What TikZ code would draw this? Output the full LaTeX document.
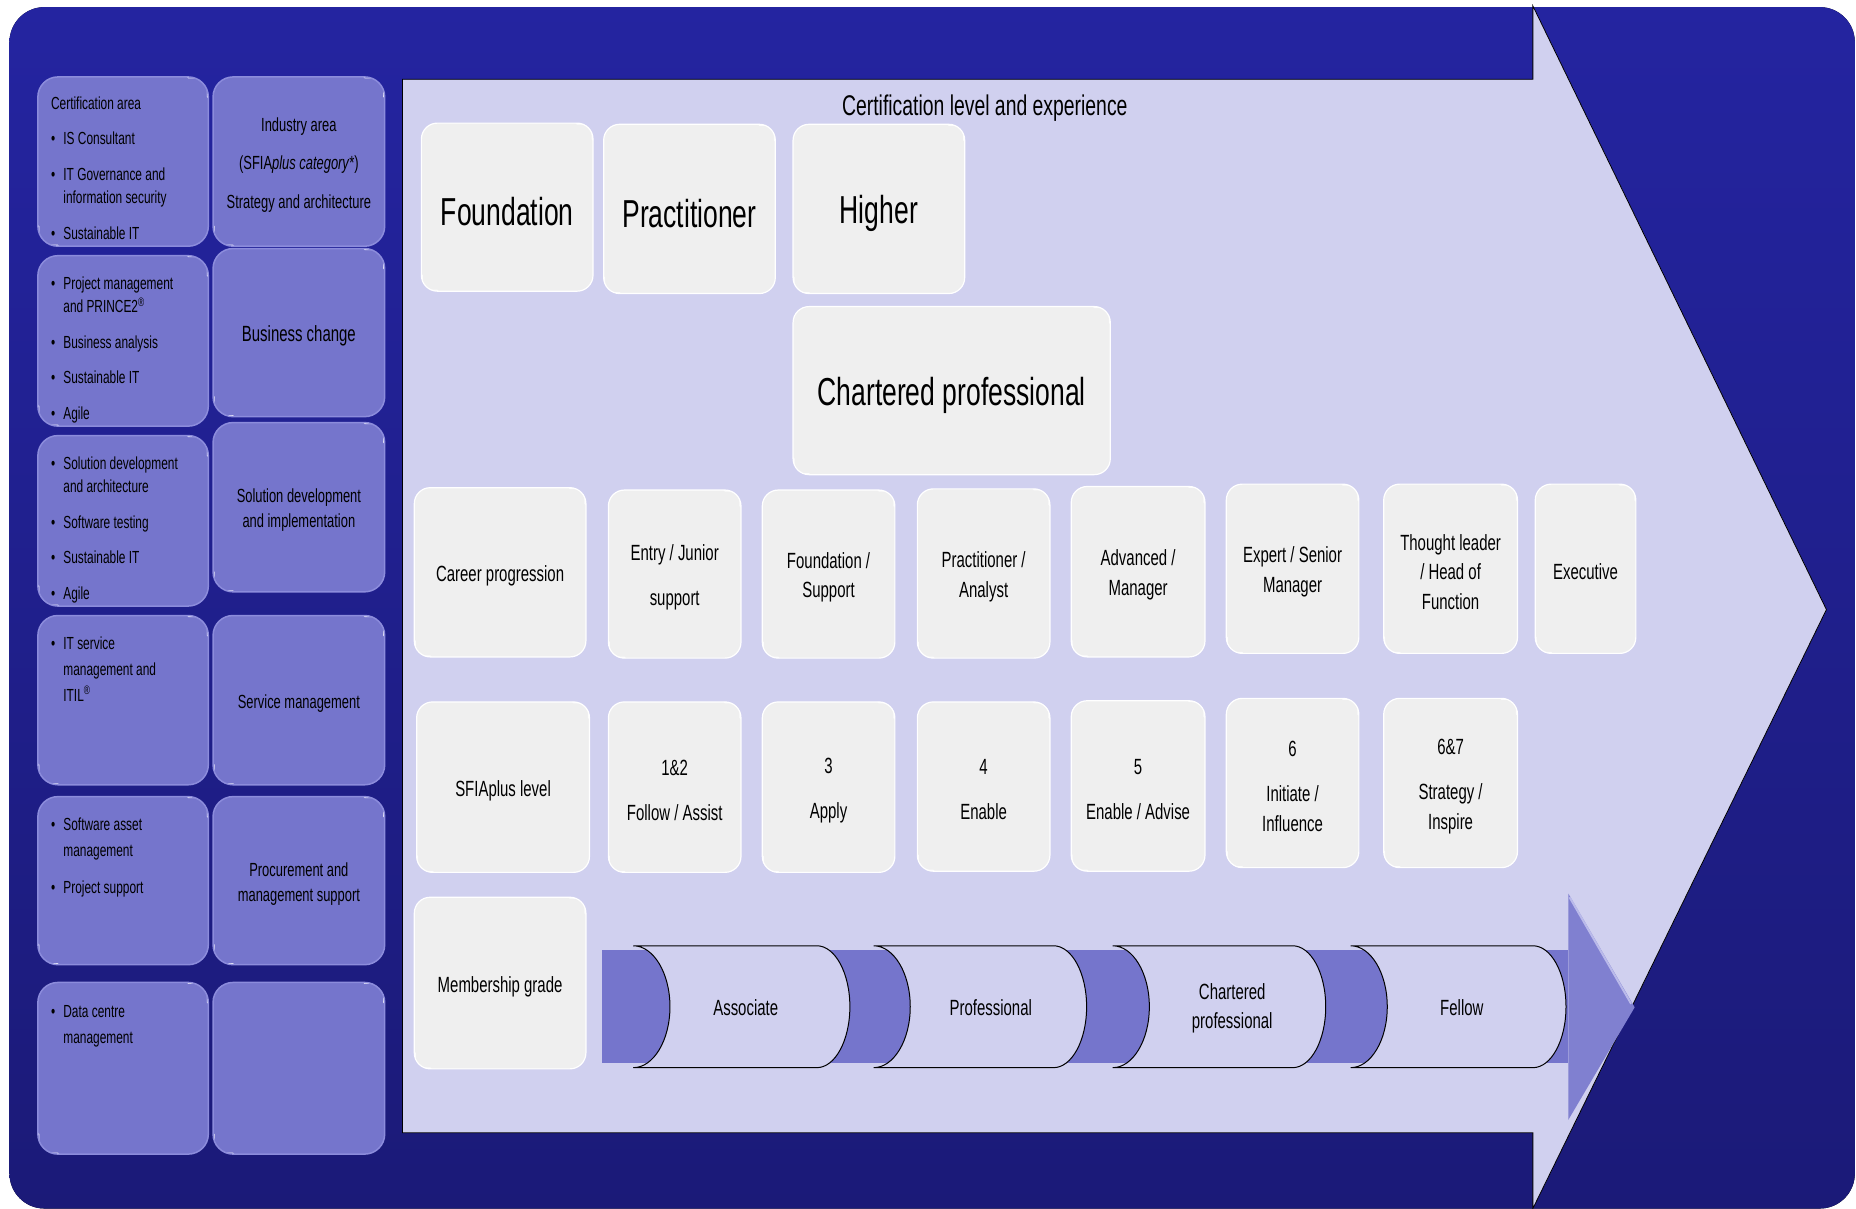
\documentclass[tikz,border=0pt]{standalone}
\usepackage{fontspec}
\setmainfont[FakeStretch=0.68]{Liberation Sans}
\usetikzlibrary{calc}
\definecolor{bgtop}{RGB}{36,36,160}
\definecolor{bgbot}{RGB}{27,26,120}
\definecolor{lav}{RGB}{208,208,239}
\definecolor{purp}{RGB}{117,117,204}
\definecolor{purpedge}{RGB}{140,140,220}
\definecolor{wboxc}{RGB}{239,239,239}
% box style, text style, name, x1, y1, x2, y2, text
\newcommand\bx[8]{%
 \pgfmathsetmacro\bxcx{(#4+#6)/2}%
 \pgfmathsetmacro\bxcy{(#5+#7)/2}%
 \pgfmathsetmacro\bxw{(#6-#4)*1.1837}%
 \pgfmathsetmacro\bxh{(#7-#5)*1.1837}%
 \node[#1, minimum width=\bxw pt, minimum height=\bxh pt] (#3) at (\bxcx,\bxcy) {};
 \node[#2] (#3-t) at (#3.center) {#8};}
\newcommand\bul{\makebox[12.3pt][l]{\textbullet}}
\newcommand\ind{\hspace*{12.3pt}}
\tikzset{
 gloss/.style={path picture={
  \draw[white, line width=3pt, opacity=0.85, line cap=round] ([xshift=-#1]path picture bounding box.north east) .. controls (path picture bounding box.north east) .. ([yshift=-#1]path picture bounding box.north east);
  \draw[white, line width=3pt, opacity=0.85, line cap=round] ([xshift=#1]path picture bounding box.south west) .. controls (path picture bounding box.south west) .. ([yshift=#1]path picture bounding box.south west);}},
 wb/.style={fill=wboxc, draw=white, line width=1.2pt, rounded corners=16pt, inner sep=0pt, gloss=16pt},
 pb/.style={fill=purp, draw=purpedge, line width=1.5pt, rounded corners=20pt, inner sep=0pt, gloss=20pt},
 wt/.style={inner sep=0pt, align=center, yshift=-3.3pt, font=\fontsize{22}{29.6}\selectfont},
 bigt/.style={inner sep=0pt, align=center, yshift=-4.6pt, font=\fontsize{39}{44}\selectfont},
 pt/.style={inner sep=0pt, align=center, yshift=-3.3pt, font=\fontsize{19}{25}\selectfont},
 lst/.style={anchor=north west, inner sep=0pt, align=left, font=\fontsize{17.5}{23.5}\selectfont},
 scrollsh/.style={fill=lav, draw=black, line width=1pt},
 lbl/.style={inner sep=0pt, align=center, font=\fontsize{22}{29.6}\selectfont},
}
\begin{document}
\begin{tikzpicture}[x=1.1837pt, y=-1.1837pt]
\useasboundingbox (0,0) rectangle (1568,1021);
\fill[white] (0,0) rectangle (1568,1021);
% background
\fill[top color=bgtop, bottom color=bgbot, rounded corners=35pt] (8,6) rectangle (1567,1021);
% big arrow
\draw[fill=lav, draw=black, line width=0.8pt] (340,67) -- (1295,67) -- (1295,5) -- (1543,515) -- (1295,1021) -- (1295,957) -- (340,957) -- cycle;
\node[font=\fontsize{28.5}{30}\selectfont, inner sep=0pt] (title) at (832,91.5) {Certification level and experience};

% left column boxes
\bx{pb}{pt}{l1}{32}{65}{176}{208}{}
\bx{pb}{pt}{l2}{32}{216}{176}{360}{}
\bx{pb}{pt}{l3}{32}{368}{176}{512}{}
\bx{pb}{pt}{l4}{32}{520}{176}{663}{}
\bx{pb}{pt}{l5}{32}{673}{176}{815}{}
\bx{pb}{pt}{l6}{32}{830}{176}{975}{}
\bx{pb}{pt,font=\fontsize{19}{29.5}\selectfont}{r1}{180}{65}{325}{208}{Industry area\\[9pt](SFIA\textit{plus category*})\\[9pt]Strategy and architecture}
\bx{pb}{pt,font=\fontsize{22}{26}\selectfont}{r2}{180}{210}{325}{352}{Business change}
\bx{pb}{pt}{r3}{180}{357}{325}{500}{Solution development\\and implementation}
\bx{pb}{pt}{r4}{180}{520}{325}{663}{Service management}
\bx{pb}{pt}{r5}{180}{673}{325}{815}{Procurement and\\management support}
\bx{pb}{pt}{r6}{180}{830}{325}{975}{}

\node[lst] (t1) at (43,81.5) {Certification area\\[12pt]\bul IS Consultant\\[12pt]\bul IT Governance and\\\ind information security\\[12pt]\bul Sustainable IT};
\node[lst] (t2) at (43,233.5) {\bul Project management\\\ind and PRINCE2\textsuperscript{®}\\[12pt]\bul Business analysis\\[12pt]\bul Sustainable IT\\[12pt]\bul Agile};
\node[lst] (t3) at (43,385.5) {\bul Solution development\\\ind and architecture\\[12pt]\bul Software testing\\[12pt]\bul Sustainable IT\\[12pt]\bul Agile};
\node[lst] (t4) at (43,537.5) {\bul IT service\\[2.5pt]\ind management and\\[2.5pt]\ind ITIL\textsuperscript{®}};
\node[lst] (t5) at (43,690.5) {\bul Software asset\\[2.5pt]\ind management\\[14pt]\bul Project support};
\node[lst] (t6) at (43,849.5) {\bul Data centre\\[2.5pt]\ind management};

% top row
\bx{wb}{bigt}{fo}{356}{104}{501}{246}{Foundation}
\bx{wb}{bigt}{pr}{510}{105}{655}{248}{Practitioner}
\bx{wb}{bigt}{hi}{670}{105}{815}{248}{Higher}
\bx{wb}{bigt}{ch}{670}{259}{938}{401}{Chartered professional}

% career row
\bx{wb}{wt}{cp}{350}{412}{495}{555}{Career progression}
\bx{wb}{wt}{c1}{514}{414}{626}{556}{Entry / Junior\\[15.4pt]support}
\bx{wb}{wt}{c2}{644}{414}{756}{556}{Foundation /\\Support}
\bx{wb}{wt}{c3}{775}{413}{887}{556}{Practitioner /\\Analyst}
\bx{wb}{wt}{c4}{905}{411}{1018}{555}{Advanced /\\Manager}
\bx{wb}{wt}{c5}{1036}{409}{1148}{552}{Expert / Senior\\Manager}
\bx{wb}{wt}{c6}{1169}{409}{1282}{552}{Thought leader\\/ Head of\\Function}
\bx{wb}{wt}{c7}{1297}{409}{1382}{552}{Executive}

% SFIA row
\bx{wb}{wt}{sp}{352}{593}{498}{737}{SFIAplus level}
\bx{wb}{wt}{s1}{514}{593}{626}{737}{1\&2\\[15.4pt]Follow / Assist}
\bx{wb}{wt}{s2}{644}{593}{756}{737}{3\\[15.4pt]Apply}
\bx{wb}{wt}{s3}{775}{593}{887}{736}{4\\[15.4pt]Enable}
\bx{wb}{wt}{s4}{905}{592}{1018}{736}{5\\[15.4pt]Enable / Advise}
\bx{wb}{wt}{s5}{1036}{590}{1148}{733}{6\\[15.4pt]Initiate /\\Influence}
\bx{wb}{wt}{s6}{1169}{590}{1282}{733}{6\&7\\[15.4pt]Strategy /\\Inspire}

% membership
\bx{wb}{wt}{mg}{350}{758}{495}{903}{Membership grade}
\fill[purp] (509,803) rectangle (1325,898);
\fill[purp!92!white] (1325,755) -- (1381,851) -- (1325,946) -- cycle;
\draw[purpedge!60!white, line width=2pt] (1326,758) -- (1378,848);
\foreach \L/\R in {535/690, 738/890, 940/1092, 1141/1295}{
 \draw[scrollsh] (\L,799) -- (\R,799) .. controls ({\R+15.5},799) and ({\R+28},822) .. ({\R+28},850.5) .. controls ({\R+28},879) and ({\R+15.5},902) .. (\R,902) -- (\L,902) .. controls ({\L+17},902) and ({\L+31},879) .. ({\L+31},850.5) .. controls ({\L+31},822) and ({\L+17},799) .. (\L,799) -- cycle;
}
\node[lbl] (as) at (630,851) {Associate};
\node[lbl] (pf) at (837,851) {Professional};
\node[lbl] (cpm) at (1041,852) {Chartered\\professional};
\node[lbl] (fe) at (1235,851) {Fellow};
\end{tikzpicture}
\end{document}
